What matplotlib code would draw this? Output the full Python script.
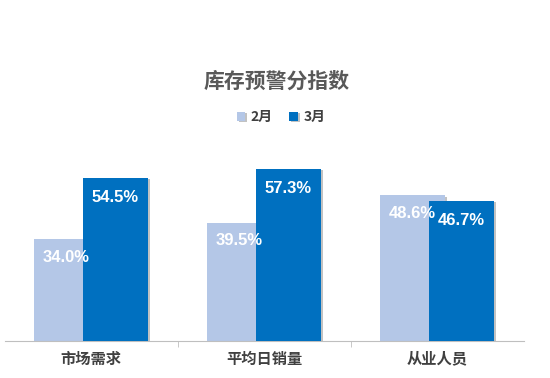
import numpy as np
import matplotlib
matplotlib.use("Agg")
from matplotlib import pyplot as plt
import matplotlib.patheffects as pe

plt.rcParams['font.family'] = ['Noto Sans CJK SC', 'DejaVu Sans']

categories = ['市场需求', '平均日销量', '从业人员']
feb = [34.0, 39.5, 48.6]
mar = [54.5, 57.3, 46.7]
series_names = ['2月', '3月']

fig = plt.figure(figsize=(5.5, 3.78), dpi=100)
ax = fig.add_axes([4.5 / 550, 37 / 378, 519 / 550, 180 / 378])

x = np.arange(len(categories))
w = 0.376
off = 0.1416
shadow = [pe.SimplePatchShadow(offset=(1.5, -1), shadow_rgbFace='#9a9a9a', alpha=0.6), pe.Normal()]
b1 = ax.bar(x - off, feb, w, color='#B4C7E7', label=series_names[0], path_effects=shadow, zorder=2)
b2 = ax.bar(x + off, mar, w, color='#0070C0', label=series_names[1], path_effects=shadow, zorder=3)

label_font = ['Liberation Sans', 'DejaVu Sans']
for xi, v in zip(x - off, feb):
    ax.text(xi, v - 6, '%.1f%%' % v, ha='center', va='center', color='white',
            fontsize=12, fontweight='bold', family=label_font, zorder=5)
for xi, v in zip(x + off, mar):
    ax.text(xi, v - 6.6, '%.1f%%' % v, ha='center', va='center', color='white',
            fontsize=12, fontweight='bold', family=label_font, zorder=5)

ax.set_xlim(-0.5, 2.5)
ax.set_ylim(0, 60)
ax.set_yticks([])
for s in ['left', 'right', 'top']:
    ax.spines[s].set_visible(False)
ax.spines['bottom'].set_color('#BFBFBF')
ax.set_xticks(x)
ax.set_xticklabels(categories, fontsize=11, fontweight='bold', color='#404040')
ax.tick_params(axis='x', which='major', length=0, pad=7)
ax.set_xticks([0.5, 1.5], minor=True)
ax.tick_params(axis='x', which='minor', length=4, color='#BFBFBF')
ax.patch.set_alpha(0)

fig.text(277 / 550, 1 - 81 / 378, '库存预警分指数', fontsize=15, fontweight='bold',
         color='#595959', ha='center', va='center')
fig.legend(handles=[b1, b2], labels=series_names, loc='center', bbox_to_anchor=(281 / 550, 1 - 117 / 378),
           ncol=2, frameon=False, handlelength=0.6, handleheight=0.6,
           handletextpad=0.4, columnspacing=1.2, prop={'weight': 'bold', 'size': 10})
for t in fig.legends[0].get_texts():
    t.set_color('#404040')

fig.savefig('out.png', dpi=100)
